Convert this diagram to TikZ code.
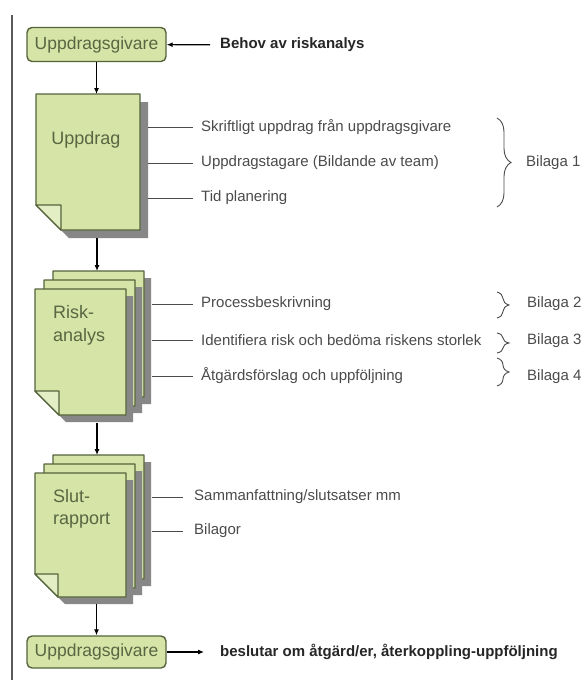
\documentclass[tikz,border=0pt]{standalone}
\usepackage{fontspec}
\setmainfont{Liberation Sans}
\usepackage{tikz}
\usetikzlibrary{arrows.meta, positioning, calc, decorations.pathreplacing}
\usepackage{xcolor}
\definecolor{pagegreen}{RGB}{214, 228, 168}
\definecolor{foldgreen}{RGB}{228, 238, 196}
\definecolor{olivedark}{RGB}{86, 100, 60}
\definecolor{oliveink}{RGB}{88, 102, 66}
\definecolor{shadegray}{RGB}{135, 135, 135}
\definecolor{labelink}{RGB}{75, 75, 75}

\begin{document}
\begin{tikzpicture}[x=1pt, y=-1pt,
    giverbox/.style={draw=olivedark, fill=pagegreen, line width=1.4pt, rounded corners=5pt,
      minimum width=139pt, minimum height=34pt, inner sep=0pt,
      text=oliveink, font=\fontsize{17.5}{20}\selectfont},
    pagenode/.style={inner sep=0pt, outer sep=0pt},
    docpage/.style={fill=pagegreen, draw=olivedark, line width=1.4pt, line join=round},
    docfold/.style={fill=foldgreen, draw=olivedark, line width=1.4pt, line join=round},
    docshade/.style={fill=shadegray},
    doctext/.style={text=oliveink, font=\fontsize{18}{23}\selectfont, inner sep=0pt, align=left},
    itemtext/.style={text=labelink, font=\fontsize{15}{17}\selectfont, inner sep=0pt, anchor=west},
    boldtext/.style={text=black!85, font=\bfseries\fontsize{15}{18}\selectfont, inner sep=0pt, anchor=west},
    leader/.style={draw=labelink, line width=0.9pt},
    flow/.style={draw=black, line width=1.1pt, -{Latex[length=6pt, width=5pt]}},
    bilbrace/.style={decorate, decoration={brace, amplitude=#1}, draw=labelink, line width=0.9pt}]

  \useasboundingbox[fill=white] (0, 0) rectangle (588, 680);

  % Margin rule
  \draw[draw=gray!70!black, line width=1.6pt] (12, 15) -- (12, 680);

  % Top client box
  \node[giverbox] (giver1) at (96.5, 44.5) {Uppdragsgivare};
  \node[boldtext] (behov) at (220, 45) {Behov av riskanalys};
  \draw[flow, shorten <=10pt] (behov) -- (giver1);

  % Uppdrag page
  \node[pagenode, minimum width=104pt, minimum height=136pt] (uppdrag) at (88, 162) {};
  \fill[docshade, transform canvas={shift={(8pt, -8pt)}}]
    (uppdrag.north west) -- (uppdrag.north east) -- (uppdrag.south east)
    -- ([xshift=25pt]uppdrag.south west) -- ([yshift=25pt]uppdrag.south west) -- cycle;
  \draw[docpage]
    (uppdrag.north west) -- (uppdrag.north east) -- (uppdrag.south east)
    -- ([xshift=25pt]uppdrag.south west) -- ([yshift=25pt]uppdrag.south west) -- cycle;
  \draw[docfold] ([yshift=25pt]uppdrag.south west) -- ++(25, 0) -- ++(0, 25) -- cycle;
  \node[doctext] (uppdragtxt) at (86, 140) {Uppdrag};
  \draw[flow] (giver1.south) -- (giver1.south |- uppdrag.north);

  % Uppdrag items
  \node[itemtext] (skrift) at (201, 127) {Skriftligt uppdrag från uppdragsgivare};
  \node[itemtext] (tagare) at (201, 163) {Uppdragstagare (Bildande av team)};
  \node[itemtext] (tid) at (201, 198) {Tid planering};
  \foreach \t in {skrift, tagare, tid}
    \draw[leader] ($(uppdrag.east |- \t)+(8, 0)$) -- ([xshift=-8pt]\t.west);
  \draw[bilbrace=14pt] (497, 118) -- (497, 207);
  \node[itemtext] (bil1) at (526, 163) {Bilaga 1};

  % Riskanalys stack
  \foreach \d/\n in {18/c, 9/b, 0/a} {
    \node[pagenode, minimum width=91pt, minimum height=126pt] (risk\n) at (80.5+\d, 352-\d) {};
    \fill[docshade, transform canvas={shift={(7pt, -7pt)}}]
      (risk\n.north west) -- (risk\n.north east) -- (risk\n.south east)
      -- ([xshift=24pt]risk\n.south west) -- ([yshift=24pt]risk\n.south west) -- cycle;
    \draw[docpage]
      (risk\n.north west) -- (risk\n.north east) -- (risk\n.south east)
      -- ([xshift=24pt]risk\n.south west) -- ([yshift=24pt]risk\n.south west) -- cycle;
  }
  \draw[docfold] ([yshift=24pt]riska.south west) -- ++(24, 0) -- ++(0, 24) -- cycle;
  \node[doctext, anchor=west] (risktxt) at (53, 325) {Risk-\\analys};
  \draw[flow] ($(uppdrag.south -| riskc.north)+(-1.5, 8)$) -- ($(riskc.north)+(-1.5, 0)$);

  % Riskanalys items
  \node[itemtext] (process) at (201, 304) {Processbeskrivning};
  \node[itemtext] (identif) at (201, 340) {Identifiera risk och bedöma riskens storlek};
  \node[itemtext] (atgard) at (201, 376) {Åtgärdsförslag och uppföljning};
  \foreach \t in {process, identif, atgard}
    \draw[leader] ($(riskc.east |- \t)+(8, 0)$) -- ([xshift=-8pt]\t.west);
  \draw[bilbrace=12pt] (497, 292) -- (497, 318);
  \draw[bilbrace=12pt] (497, 333) -- (497, 353);
  \draw[bilbrace=12pt] (497, 358) -- (497, 386);
  \node[itemtext] (bil2) at (527, 304) {Bilaga 2};
  \node[itemtext] (bil3) at (527, 341) {Bilaga 3};
  \node[itemtext] (bil4) at (527, 377) {Bilaga 4};

  % Slutrapport stack
  \foreach \d/\n in {18/c, 9/b, 0/a} {
    \node[pagenode, minimum width=91pt, minimum height=124pt] (slut\n) at (80.5+\d, 535-\d) {};
    \fill[docshade, transform canvas={shift={(7pt, -7pt)}}]
      (slut\n.north west) -- (slut\n.north east) -- (slut\n.south east)
      -- ([xshift=23pt]slut\n.south west) -- ([yshift=23pt]slut\n.south west) -- cycle;
    \draw[docpage]
      (slut\n.north west) -- (slut\n.north east) -- (slut\n.south east)
      -- ([xshift=23pt]slut\n.south west) -- ([yshift=23pt]slut\n.south west) -- cycle;
  }
  \draw[docfold] ([yshift=23pt]sluta.south west) -- ++(23, 0) -- ++(0, 23) -- cycle;
  \node[doctext, anchor=west, font=\fontsize{18}{22}\selectfont] (sluttxt) at (53, 509) {Slut-\\rapport};
  \draw[flow] ($(riska.south -| slutc.north)+(-1.5, 8)$) -- ($(slutc.north)+(-1.5, 0)$);

  % Slutrapport items
  \node[itemtext] (samman) at (194, 497) {Sammanfattning/slutsatser mm};
  \node[itemtext] (bilagor) at (194, 531) {Bilagor};
  \foreach \t in {samman, bilagor}
    \draw[leader] ($(slutc.east |- \t)+(8, 0)$) -- ([xshift=-11pt]\t.west);

  % Bottom client box
  \node[giverbox, minimum height=32pt] (giver2) at (96.5, 652) {Uppdragsgivare};
  \node[boldtext] (beslut) at (220, 652) {beslutar om åtgärd/er, återkoppling-uppföljning};
  \draw[flow] ($(sluta.south -| giver2.north)+(0, 7)$) -- (giver2.north);
  \draw[flow, shorten >=16pt] (giver2) -- (beslut);
\end{tikzpicture}
\end{document}
